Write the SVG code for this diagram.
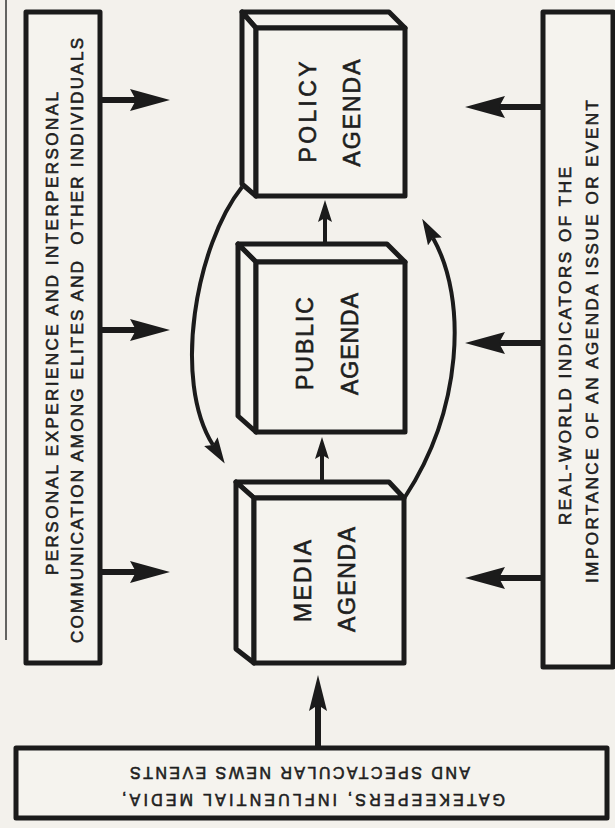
<svg xmlns="http://www.w3.org/2000/svg" width="615" height="828" viewBox="0 0 615 828">
<defs>
<style>
.bg{fill:#f3f1ec}
.box{fill:#f5f3ee;stroke:#1b1b1b;stroke-width:5;stroke-linejoin:round}
.face{fill:#f5f3ee;stroke:#1b1b1b;stroke-width:5;stroke-linejoin:round}
.t{font-family:"Liberation Sans",Arial,sans-serif;fill:#1e1e1e;stroke:#1e1e1e;stroke-width:0.6}
.s{font-size:17px}
.b{font-size:16px}
.c{font-size:23px}
.sh{fill:none;stroke:#1b1b1b;stroke-width:6}
.shs{fill:none;stroke:#1b1b1b;stroke-width:4}
.cv{fill:none;stroke:#1b1b1b;stroke-width:4}
.hd{fill:#1b1b1b}
</style>
<marker id="hL" markerUnits="userSpaceOnUse" markerWidth="40" markerHeight="22" refX="6" refY="11" orient="auto" viewBox="0 0 40 22"><path class="hd" d="M0,0 L40,11 L0,22 L6,11 Z"/></marker>
<marker id="hB" markerUnits="userSpaceOnUse" markerWidth="36" markerHeight="18" refX="6" refY="9" orient="auto" viewBox="0 0 36 18"><path class="hd" d="M0,0 L36,9 L0,18 L6,9 Z"/></marker>
<marker id="hS" markerUnits="userSpaceOnUse" markerWidth="22" markerHeight="14" refX="4" refY="7" orient="auto" viewBox="0 0 22 14"><path class="hd" d="M0,0 L22,7 L0,14 L4,7 Z"/></marker>
<marker id="hC" markerUnits="userSpaceOnUse" markerWidth="26" markerHeight="16" refX="4" refY="8" orient="auto" viewBox="0 0 26 16"><path class="hd" d="M0,0 L26,8 L0,16 L4,8 Z"/></marker>
</defs>
<rect class="bg" x="0" y="0" width="615" height="828"/>
<line x1="6" y1="0" x2="6" y2="640" stroke="#333" stroke-width="1.5"/>

<g id="left-box">
<rect class="box" x="26" y="12" width="74" height="651"/>
<text class="t s" transform="translate(58,333.5) rotate(-90)" text-anchor="middle" textLength="483" lengthAdjust="spacing">PERSONAL EXPERIENCE AND INTERPERSONAL</text>
<text class="t s" transform="translate(83,340.5) rotate(-90)" text-anchor="middle" textLength="605" lengthAdjust="spacing" style="white-space:pre">COMMUNICATION AMONG ELITES AND  OTHER INDIVIDUALS</text>
</g>

<g id="right-box">
<rect class="box" x="543" y="12" width="70" height="655"/>
<text class="t s" transform="translate(571,346) rotate(-90)" text-anchor="middle" textLength="358" lengthAdjust="spacing">REAL-WORLD INDICATORS OF THE</text>
<text class="t s" transform="translate(598,341.5) rotate(-90)" text-anchor="middle" textLength="483" lengthAdjust="spacing">IMPORTANCE OF AN AGENDA ISSUE OR EVENT</text>
</g>

<g id="bottom-box">
<rect class="box" x="16" y="748" width="591" height="70"/>
<text class="t b" transform="translate(470,767) rotate(180)" textLength="340" lengthAdjust="spacing">AND SPECTACULAR NEWS EVENTS</text>
<text class="t b" transform="translate(505,794) rotate(180)" textLength="383" lengthAdjust="spacing">GATEKEEPERS, INFLUENTIAL MEDIA,</text>
</g>

<g id="policy-agenda">
<path class="face" d="M256,28 L242,12 L389,12 L405,28 Z"/>
<path class="face" d="M256,28 L242,12 L242,184 L256,196 Z"/>
<rect class="face" x="256" y="28" width="149" height="168"/>
<text class="t c" transform="translate(316,112) rotate(-90)" text-anchor="middle" textLength="101" lengthAdjust="spacing">POLICY</text>
<text class="t c" transform="translate(360,113) rotate(-90)" text-anchor="middle" textLength="107" lengthAdjust="spacing">AGENDA</text>
</g>

<g id="public-agenda">
<path class="face" d="M256,262 L238,244 L387,244 L405,262 Z"/>
<path class="face" d="M256,262 L238,244 L238,416 L256,432 Z"/>
<rect class="face" x="256" y="262" width="149" height="170"/>
<text class="t c" transform="translate(313,343.5) rotate(-90)" text-anchor="middle" textLength="93" lengthAdjust="spacing">PUBLIC</text>
<text class="t c" transform="translate(358,344) rotate(-90)" text-anchor="middle" textLength="102" lengthAdjust="spacing">AGENDA</text>
</g>

<g id="media-agenda">
<path class="face" d="M254,498 L236,482 L389,482 L404,498 Z"/>
<path class="face" d="M254,498 L236,482 L236,649 L254,663 Z"/>
<rect class="face" x="254" y="498" width="150" height="165"/>
<text class="t c" transform="translate(311,581) rotate(-90)" text-anchor="middle" textLength="82" lengthAdjust="spacing">MEDIA</text>
<text class="t c" transform="translate(355,579.5) rotate(-90)" text-anchor="middle" textLength="105" lengthAdjust="spacing">AGENDA</text>
</g>

<g id="connectors">
<line class="sh" x1="100" y1="100" x2="136" y2="100" marker-end="url(#hL)"/>
<line class="sh" x1="100" y1="330" x2="136" y2="330" marker-end="url(#hL)"/>
<line class="sh" x1="100" y1="572" x2="136" y2="572" marker-end="url(#hL)"/>
<line class="sh" x1="543" y1="107" x2="499" y2="107" marker-end="url(#hL)"/>
<line class="sh" x1="543" y1="343" x2="499" y2="343" marker-end="url(#hL)"/>
<line class="sh" x1="543" y1="578" x2="499" y2="578" marker-end="url(#hL)"/>
<line class="sh" x1="318" y1="748" x2="318" y2="705" marker-end="url(#hB)"/>
<line class="shs" x1="325" y1="243" x2="325" y2="218" marker-end="url(#hS)"/>
<line class="shs" x1="322" y1="482" x2="322" y2="455" marker-end="url(#hS)"/>
<path class="cv" d="M242,187 C196,245 172,380 213,445" marker-end="url(#hC)"/>
<path class="cv" d="M405,497 C462,410 468,300 433,238" marker-end="url(#hC)"/>
</g>
</svg>
